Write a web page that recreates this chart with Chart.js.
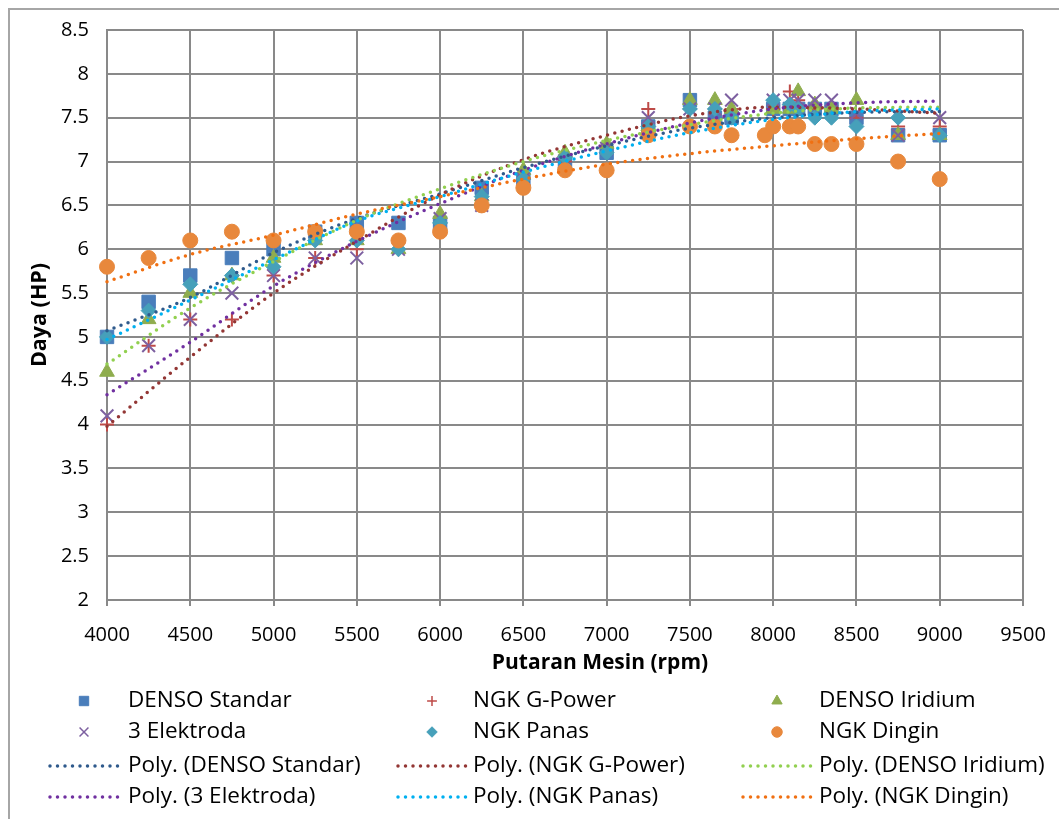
<!DOCTYPE html>
<html>
<head>
<meta charset="utf-8">
<script src="https://cdn.jsdelivr.net/npm/chart.js@4.4.1/dist/chart.umd.min.js"></script>
<style>
  html, body { margin: 0; padding: 0; background: #fff; }
  #wrap { width: 1059px; height: 819px; position: relative; }
</style>
</head>
<body>
<div id="wrap"><canvas id="powerChart"></canvas></div>
<script>
// measured rpm steps
const rpm = [4000, 4250, 4500, 4750, 5000, 5250, 5500, 5750, 6000, 6250, 6500, 6750, 7000,
  7250, 7500, 7650, 7750, 8000, 8100, 8150, 8250, 8350, 8500, 8750, 9000];
const rpmDingin = [4000, 4250, 4500, 4750, 5000, 5250, 5500, 5750, 6000, 6250, 6500, 6750, 7000,
  7250, 7500, 7650, 7750, 7950, 8000, 8100, 8150, 8250, 8350, 8500, 8750, 9000];

const densoStandar = [5.0, 5.4, 5.7, 5.9, 6.0, 6.2, 6.3, 6.3, 6.3, 6.7, 6.8, 7.0, 7.1,
  7.4, 7.7, 7.5, 7.5, 7.6, 7.6, 7.6, 7.6, 7.6, 7.5, 7.3, 7.3];
const ngkGPower = [4.0, 4.9, 5.2, 5.2, 5.7, 5.9, 6.0, 6.0, 6.2, 6.5, 6.8, 7.0, 7.1,
  7.6, 7.6, 7.6, 7.6, 7.6, 7.8, 7.7, 7.6, 7.6, 7.5, 7.4, 7.4];
const densoIridium = [4.6, 5.2, 5.5, 5.7, 5.9, 6.1, 6.1, 6.0, 6.4, 6.6, 6.9, 7.1, 7.2,
  7.4, 7.7, 7.7, 7.6, 7.6, 7.6, 7.8, 7.65, 7.6, 7.7, 7.3, 7.3];
const tigaElektroda = [4.1, 4.9, 5.2, 5.5, 5.7, 5.9, 5.9, 6.0, 6.35, 6.5, 6.8, 7.0, 7.15,
  7.5, 7.6, 7.6, 7.7, 7.7, 7.7, 7.7, 7.7, 7.7, 7.55, 7.3, 7.5];
const ngkPanas = [5.0, 5.3, 5.6, 5.7, 5.8, 6.1, 6.1, 6.0, 6.3, 6.6, 6.8, 7.05, 7.1,
  7.4, 7.6, 7.6, 7.5, 7.7, 7.65, 7.6, 7.5, 7.5, 7.4, 7.5, 7.3];
const ngkDingin = [5.8, 5.9, 6.1, 6.2, 6.1, 6.2, 6.2, 6.1, 6.2, 6.5, 6.7, 6.9, 6.9,
  7.3, 7.4, 7.4, 7.3, 7.3, 7.4, 7.4, 7.4, 7.2, 7.2, 7.2, 7.0, 6.8];

// trendline values
const trendRpm = [4000, 4500, 5000, 5500, 6000, 6500, 7000, 7500, 8000, 8500, 9000];
const polyDensoStandar = [5.07, 5.45, 5.96, 6.35, 6.63, 6.93, 7.18, 7.38, 7.5, 7.56, 7.57];
const polyNgkGPower = [3.98, 4.77, 5.5, 6.09, 6.62, 7.02, 7.3, 7.52, 7.62, 7.6, 7.55];
const polyDensoIridium = [4.69, 5.33, 5.86, 6.33, 6.69, 7.0, 7.24, 7.42, 7.55, 7.61, 7.62];
const polyTigaElektroda = [4.34, 4.94, 5.58, 6.09, 6.52, 6.9, 7.2, 7.44, 7.6, 7.67, 7.69];
const polyNgkPanas = [4.97, 5.42, 5.88, 6.32, 6.6, 6.88, 7.12, 7.33, 7.48, 7.57, 7.6];
const polyNgkDingin = [5.63, 5.94, 6.16, 6.4, 6.6, 6.8, 6.97, 7.09, 7.18, 7.26, 7.32];

const toPoints = (xs, ys) => xs.map((x, i) => ({ x: x, y: ys[i] }));

const series = [
  { label: 'DENSO Standar', xs: rpm, ys: densoStandar, style: 'rect', radius: 9.5, color: '#4A7EBB' },
  { label: 'NGK G-Power', xs: rpm, ys: ngkGPower, style: 'cross', radius: 7, color: '#BE4B48' },
  { label: 'DENSO Iridium', xs: rpm, ys: densoIridium, style: 'triangle', radius: 8.5, color: '#8FAD4E' },
  { label: '3 Elektroda', xs: rpm, ys: tigaElektroda, style: 'crossRot', radius: 9, color: '#7D60A0' },
  { label: 'NGK Panas', xs: rpm, ys: ngkPanas, style: 'rectRot', radius: 7.5, color: '#46A0BA' },
  { label: 'NGK Dingin', xs: rpmDingin, ys: ngkDingin, style: 'circle', radius: 7.5, color: '#E8883C' }
];

const trends = [
  { label: 'Poly. (DENSO Standar)', ys: polyDensoStandar, color: '#2F5A8C' },
  { label: 'Poly. (NGK G-Power)', ys: polyNgkGPower, color: '#933634' },
  { label: 'Poly. (DENSO Iridium)', ys: polyDensoIridium, color: '#92D050' },
  { label: 'Poly. (3 Elektroda)', ys: polyTigaElektroda, color: '#7030A0' },
  { label: 'Poly. (NGK Panas)', ys: polyNgkPanas, color: '#00B0F0' },
  { label: 'Poly. (NGK Dingin)', ys: polyNgkDingin, color: '#F07012' }
];

const datasets = [];
series.forEach((s, i) => {
  const isCross = s.style === 'cross' || s.style === 'crossRot';
  datasets.push({
    label: s.label,
    data: toPoints(s.xs, s.ys),
    showLine: false,
    clip: false,
    pointStyle: s.style,
    pointRadius: s.radius,
    pointHoverRadius: s.radius,
    backgroundColor: s.color,
    borderColor: s.color,
    pointBorderWidth: isCross ? 2 : 1,
    order: 20 - i
  });
});
trends.forEach((t, i) => {
  datasets.push({
    label: t.label,
    data: toPoints(trendRpm, t.ys),
    showLine: true,
    clip: false,
    pointRadius: 0,
    pointHoverRadius: 0,
    borderColor: t.color,
    backgroundColor: t.color,
    borderWidth: 3.5,
    borderDash: [0, 7.5],
    borderCapStyle: 'round',
    cubicInterpolationMode: 'monotone',
    fill: false,
    order: 6 - i
  });
});

const FONT = "'Open Sans', sans-serif";
const GRID = '#898989';

// frame, x title and legend laid out like the Excel legend (3 columns, 4 rows)
const excelLegend = {
  id: 'excelLegend',
  beforeDraw(chart) {
    const ctx = chart.ctx;
    ctx.save();
    ctx.fillStyle = '#fff';
    ctx.fillRect(0, 0, chart.width, chart.height);
    ctx.strokeStyle = '#A6A6A6';
    ctx.lineWidth = 2;
    ctx.strokeRect(9, 9, 1200, 1000);
    ctx.restore();
  },
  afterDraw(chart) {
    const ctx = chart.ctx;
    const colCenter = [84, 432, 777];
    const colText = [128, 473, 819];
    const rowY = [701, 732, 766, 797];
    ctx.save();
    ctx.fillStyle = '#000';
    ctx.textAlign = 'center';
    ctx.textBaseline = 'middle';
    ctx.font = 'bold 21px ' + FONT;
    ctx.fillText('Putaran Mesin (rpm)', 600, 663);

    ctx.textAlign = 'left';
    ctx.font = '22.5px ' + FONT;
    series.forEach((s, i) => {
      const col = i % 3, row = Math.floor(i / 3);
      const x = colCenter[col], y = rowY[row];
      ctx.fillStyle = s.color;
      ctx.strokeStyle = s.color;
      ctx.lineWidth = (s.style === 'cross' || s.style === 'crossRot') ? 1.5 : 1;
      Chart.helpers.drawPoint(ctx, { pointStyle: s.style, rotation: 0, radius: s.radius * 0.7, borderWidth: ctx.lineWidth }, x, y);
      ctx.fillStyle = '#000';
      ctx.fillText(s.label, colText[col], y);
    });
    trends.forEach((t, i) => {
      const col = i % 3, row = 2 + Math.floor(i / 3);
      const x = colCenter[col], y = rowY[row];
      ctx.beginPath();
      ctx.setLineDash([0, 7.5]);
      ctx.lineCap = 'round';
      ctx.lineWidth = 3.5;
      ctx.strokeStyle = t.color;
      ctx.moveTo(x - 34, y);
      ctx.lineTo(x + 36, y);
      ctx.stroke();
      ctx.setLineDash([]);
      ctx.fillStyle = '#000';
      ctx.fillText(t.label, colText[col], y);
    });
    ctx.restore();
  }
};

new Chart(document.getElementById('powerChart').getContext('2d'), {
  type: 'scatter',
  data: { datasets: datasets },
  plugins: [excelLegend],
  options: {
    responsive: true,
    maintainAspectRatio: false,
    animation: false,
    devicePixelRatio: 1,
    layout: { padding: { left: 10, top: 25, right: 36, bottom: 140 } },
    plugins: {
      legend: { display: false },
      tooltip: { enabled: false }
    },
    scales: {
      x: {
        type: 'linear',
        min: 4000,
        max: 9500,
        afterFit: (scale) => {
          scale.height = 79;
          scale.paddingLeft = 20;
          scale.paddingRight = 20;
        },
        ticks: {
          stepSize: 500,
          color: '#000',
          font: { family: FONT, size: 20 },
          padding: 17,
          maxRotation: 0,
          callback: (v) => String(v)
        },
        grid: { color: GRID, lineWidth: 2, tickLength: 6 },
        border: { color: GRID, width: 2 },
        title: { display: false }
      },
      y: {
        min: 2,
        max: 8.5,
        afterFit: (scale) => { scale.width = 97; },
        ticks: {
          stepSize: 0.5,
          color: '#000',
          font: { family: FONT, size: 20 },
          padding: 18,
          callback: (v) => String(Math.round(v * 10) / 10)
        },
        grid: { color: GRID, lineWidth: 2, drawTicks: false },
        border: { color: GRID, width: 2 },
        title: {
          display: true,
          text: 'Daya (HP)',
          color: '#000',
          font: { family: FONT, size: 21.5, weight: 'bold' },
          padding: { top: 17, bottom: 0 }
        }
      }
    }
  }
});
</script>
</body>
</html>
